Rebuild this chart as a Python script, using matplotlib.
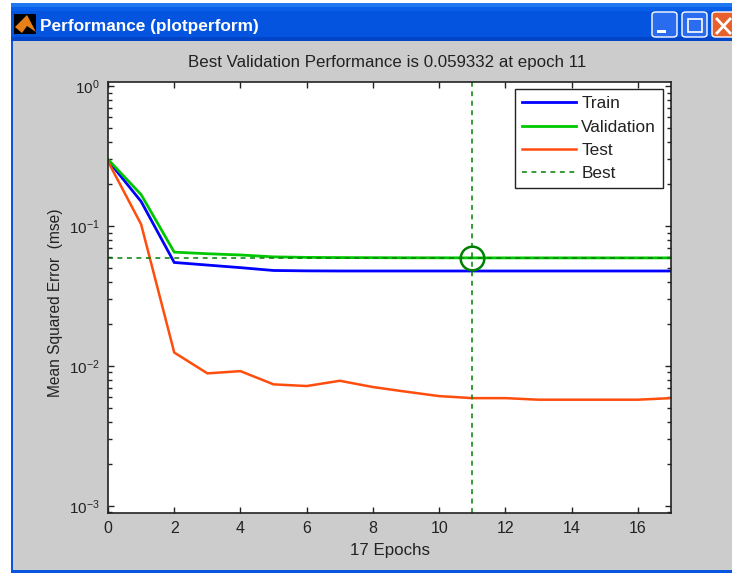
import matplotlib
matplotlib.use('Agg')
import matplotlib.pyplot as plt
import matplotlib.ticker as mticker
from matplotlib.patches import Rectangle, FancyBboxPatch, Polygon
from matplotlib.lines import Line2D

plt.rcParams['font.family'] = ['Liberation Sans', 'DejaVu Sans']
plt.rcParams['mathtext.default'] = 'regular'

epochs = list(range(18))
train = [0.295, 0.150, 0.055, 0.0527, 0.0505, 0.0482, 0.0479, 0.0478, 0.0478, 0.0478,
         0.0478, 0.0478, 0.0478, 0.0478, 0.0478, 0.0478, 0.0478, 0.0478]
validation = [0.300, 0.168, 0.0652, 0.0635, 0.0622, 0.0603, 0.0598, 0.0596, 0.0595, 0.0594,
              0.0594, 0.0593, 0.0593, 0.0593, 0.0593, 0.0593, 0.0593, 0.0593]
test = [0.290, 0.103, 0.0125, 0.00887, 0.0092, 0.0074, 0.0072, 0.00785, 0.00708, 0.00656,
        0.0061, 0.0059, 0.0059, 0.00575, 0.00575, 0.00575, 0.00575, 0.0059]
best_epoch = 11
best_value = 0.059332
title = 'Best Validation Performance is 0.059332 at epoch 11'
window_title = 'Performance (plotperform)'
xticks = [0, 2, 4, 6, 8, 10, 12, 14, 16]
yticks = [1e-3, 1e-2, 1e-1, 1e0]
yticklabels = ['$10^{-3}$', '$10^{-2}$', '$10^{-1}$', '$10^{0}$']

W, H = 732, 573
fig = plt.figure(figsize=(W / 100, H / 100), dpi=100, facecolor='white')


def fx(px):
    return px / W


def fy(py):
    return 1 - py / H


def frect(x0, y0, x1, y1, **kw):
    fig.add_artist(Rectangle((fx(x0), fy(y1)), fx(x1 - x0), (y1 - y0) / H,
                             transform=fig.transFigure, **kw))


# window chrome
frect(11, 3, 732, 573, facecolor='#cccccc', edgecolor='none')
frect(11, 3, 732, 41, facecolor='#0554e0', edgecolor='none')
frect(11, 3, 732, 7, facecolor='#1f78f0', edgecolor='none')
frect(11, 7, 732, 11, facecolor='#0a5fe8', edgecolor='none')
frect(11, 37, 732, 41, facecolor='#0345c8', edgecolor='none')
frect(11, 41, 13, 573, facecolor='#0a55e0', edgecolor='none')
frect(11, 570, 732, 573, facecolor='#0a55e0', edgecolor='none')
frect(14, 14, 36, 34, facecolor='black', edgecolor='none')
fig.add_artist(Polygon([(fx(15), fy(27)), (fx(27), fy(15)), (fx(36), fy(32)), (fx(27), fy(26)), (fx(22), fy(33))],
                       transform=fig.transFigure, facecolor='#e8801a', edgecolor='none'))
fig.text(fx(40), fy(26), window_title, color='white', fontsize=12.4, fontweight='bold', va='center', ha='left')
for x0, col in [(652, '#2a6cf0'), (682, '#2a6cf0'), (712, '#e8602c')]:
    fig.add_artist(FancyBboxPatch((fx(x0), fy(37)), fx(25), 25 / H, boxstyle='round,pad=0,rounding_size=0.005',
                                  transform=fig.transFigure, facecolor=col, edgecolor='white', lw=1.0))
frect(657, 30, 666, 33, facecolor='white', edgecolor='none')
frect(688, 19, 702, 32, facecolor='none', edgecolor='white', lw=1.2)
fig.add_artist(Line2D([fx(717), fx(730)], [fy(19), fy(33)], color='white', lw=2, transform=fig.transFigure))
fig.add_artist(Line2D([fx(717), fx(730)], [fy(33), fy(19)], color='white', lw=2, transform=fig.transFigure))

# axes
ax = fig.add_axes([fx(108), fy(513), (671 - 108) / W, (513 - 82) / H], facecolor='white')
ax.set_zorder(10)
ax.set_yscale('log')
ax.plot(epochs, train, color='#0000ff', lw=2.0, label='Train', solid_joinstyle='miter')
ax.plot(epochs, validation, color='#00c800', lw=2.0, label='Validation', solid_joinstyle='miter')
ax.plot(epochs, test, color='#ff4d0d', lw=1.8, label='Test', solid_joinstyle='miter')
ax.axhline(best_value, color='#008000', lw=1.1, ls=(0, (3.2, 3)), label='Best')
ax.axvline(best_epoch, color='#008000', lw=1.1, ls=(0, (3.2, 3)))
ax.plot([best_epoch], [best_value], marker='o', mfc='none', mec='#008000', mew=1.8, ms=17, ls='none')

ax.set_xlim(0, 17)
ax.set_ylim(10 ** -3.05, 10 ** 0.03)
ax.set_xticks(xticks)
ax.set_yticks(yticks)
ax.set_yticklabels(yticklabels)
ax.yaxis.set_minor_locator(mticker.LogLocator(base=10, subs=range(2, 10), numticks=12))
ax.yaxis.set_minor_formatter(mticker.NullFormatter())
ax.tick_params(axis='both', which='major', direction='in', top=True, right=True, length=4, width=1,
               color='#222222', labelcolor='#222222')
ax.tick_params(axis='x', which='major', pad=6, labelsize=11.5)
ax.tick_params(axis='y', which='major', pad=6, labelsize=11)
ax.tick_params(axis='y', which='minor', direction='in', left=True, right=True, length=3, width=1, color='#222222')
for s in ax.spines.values():
    s.set_linewidth(1.2)
    s.set_color('#222222')
ax.set_title(title, fontsize=12.2, pad=11, color='#222222', x=0.4956)
ax.set_xlabel('17 Epochs', fontsize=12.2, labelpad=5, color='#222222')
ax.set_ylabel('Mean Squared Error  (mse)', fontsize=11.2, color='#222222')
ax.yaxis.set_label_coords(-0.08, 0.488)

leg = ax.legend(loc='upper left', bbox_to_anchor=(fx(515), fy(89)), bbox_transform=fig.transFigure,
                fontsize=12.4, frameon=True, fancybox=False, edgecolor='#222222', framealpha=1,
                labelspacing=0.48, handlelength=3.1, handletextpad=0.32, borderpad=0.42, borderaxespad=0,
                labelcolor='#222222')
leg.get_frame().set_linewidth(1.0)

fig.savefig('out.png', dpi=100, facecolor='white')
